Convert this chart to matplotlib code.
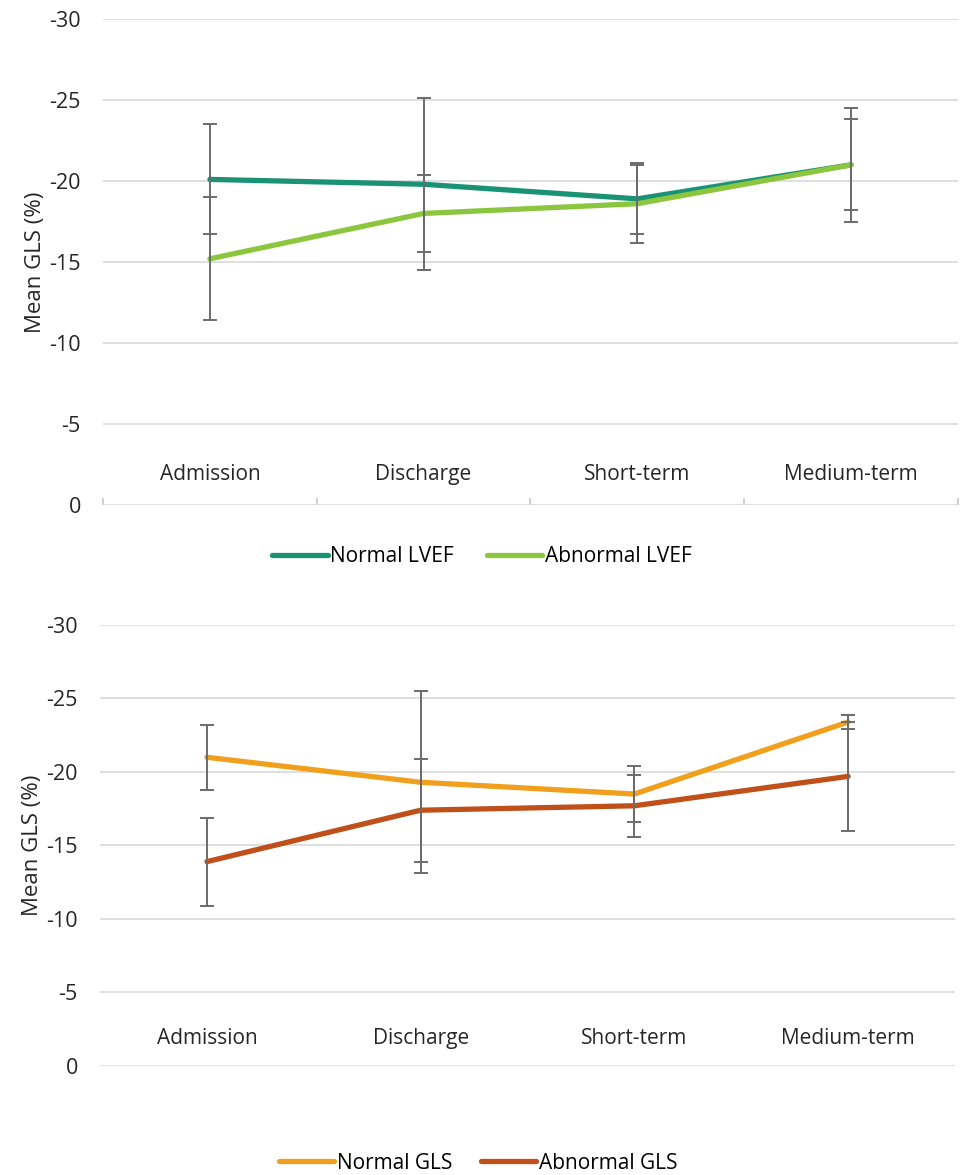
import numpy as np
import matplotlib
matplotlib.use("Agg")
import matplotlib.pyplot as plt

plt.rcParams['font.family'] = ['Open Sans', 'DejaVu Sans']
plt.rcParams['axes.unicode_minus'] = False

categories = ["Admission", "Discharge", "Short-term", "Medium-term"]
y_ticks = [0, -5, -10, -15, -20, -25, -30]

# top panel: LVEF groups
normal_lvef = [-20.1, -19.8, -18.9, -21.0]
normal_lvef_err = [3.4, 5.3, 2.2, 2.8]
abnormal_lvef = [-15.2, -18.0, -18.6, -21.0]
abnormal_lvef_err = [3.8, 2.4, 2.4, 3.5]

# bottom panel: GLS groups
normal_gls = [-21.0, -19.3, -18.5, -23.4]
normal_gls_err = [2.2, 6.2, 1.9, 0.5]
abnormal_gls = [-13.9, -17.4, -17.7, -19.7]
abnormal_gls_err = [3.0, 3.5, 2.1, 3.7]

fig = plt.figure(figsize=(9.6, 11.75), dpi=100)
ax1 = fig.add_axes([0.1073, 0.5702, 0.8906, 0.4136])
ax2 = fig.add_axes([0.1042, 0.0928, 0.8906, 0.3753])

TXT = '#262626'


def draw_panel(ax, series, colors, labels, boundary_ticks):
    x = np.arange(len(categories))
    handles = []
    for (vals, errs), col, lab in zip(series, colors, labels):
        h, = ax.plot(x, vals, color=col, lw=3.8, label=lab, zorder=3,
                     solid_capstyle='round', solid_joinstyle='round')
        handles.append(h)
        ax.errorbar(x, vals, yerr=errs, fmt='none', ecolor='#6b6b6b',
                    elinewidth=1.4, capsize=4.7, capthick=1.4, zorder=4)
    ax.set_xlim(-0.5, len(categories) - 0.5)
    ax.set_ylim(0, -30)
    ax.set_yticks(y_ticks)
    ax.set_yticklabels([str(t) for t in y_ticks])
    ax.grid(axis='y', color='#d9d9d9', lw=1.2, zorder=0)
    for s in ax.spines.values():
        s.set_visible(False)
    ax.tick_params(axis='y', length=0, labelsize=15.5, pad=16,
                   labelcolor=TXT)
    ax.set_xticks([])
    if boundary_ticks:
        ax.set_xticks(np.arange(-0.5, len(categories), 1.0), minor=True)
        ax.tick_params(axis='x', which='minor', direction='in', length=5,
                       color='#c8c8c8', width=1.2)
    for i, c in enumerate(categories):
        ax.text(i, -1.9, c, ha='center', va='center', fontsize=15,
                color=TXT)
    ax.set_ylabel("Mean GLS (%)", fontsize=16, color=TXT, labelpad=2)
    return handles


h1 = draw_panel(ax1, [(normal_lvef, normal_lvef_err),
                      (abnormal_lvef, abnormal_lvef_err)],
                ['#1a9375', '#8cc63e'], ['Normal LVEF', 'Abnormal LVEF'], True)
h2 = draw_panel(ax2, [(normal_gls, normal_gls_err),
                      (abnormal_gls, abnormal_gls_err)],
                ['#f0a01c', '#c0501a'], ['Normal GLS', 'Abnormal GLS'], False)

fig.legend(handles=h1, loc='center', bbox_to_anchor=(0.502, 0.526), ncol=2,
           frameon=False, fontsize=15, handlelength=2.65, handletextpad=0.12,
           columnspacing=1.6)
fig.legend(handles=h2, loc='center', bbox_to_anchor=(0.498, 0.010), ncol=2,
           frameon=False, fontsize=15, handlelength=2.65, handletextpad=0.12,
           columnspacing=1.4)

fig.savefig("out.png", dpi=100, facecolor='white')
